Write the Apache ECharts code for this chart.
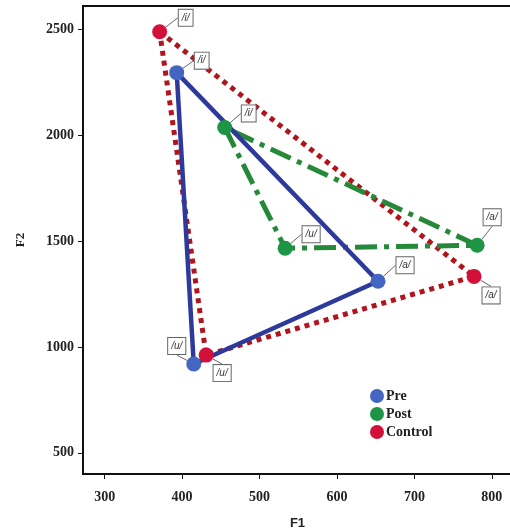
<!DOCTYPE html>
<html>
<head>
<meta charset="utf-8">
<script src="https://cdn.jsdelivr.net/npm/echarts@6/dist/echarts.min.js"></script>
<style>
  html, body { margin: 0; padding: 0; background: #fff; }
  #container { width: 510px; height: 531px; }
</style>
</head>
<body>
<div id="container"></div>
<script>
// vowel labels, same order in every group
const vowels = ['/i/', '/a/', '/u/']

// F1, F2 per group
const preF1 = [393, 653, 415]
const preF2 = [2297, 1311, 920]
const postF1 = [455, 781, 533]
const postF2 = [2038, 1481, 1467]
const controlF1 = [371, 777, 431]
const controlF2 = [2490, 1334, 962]

const xTicks = [300, 400, 500, 600, 700, 800]
const yTicks = [500, 1000, 1500, 2000, 2500]

// label offsets (px) from the point, per group
const labelOffsets = {
  Pre: [[25, -12], [27, -16], [-17, -18]],
  Post: [[24, -14], [15, -28], [26, -14]],
  Control: [[26, -14], [17, 19], [16, 18]]
}

function points(f1, f2) {
  return f1.map((v, i) => [v, f2[i]])
}

// closed triangle i -> a -> u -> i (post goes i -> u -> a -> i, same shape)
function ring(f1, f2) {
  let p = points(f1, f2)
  return p.concat([p[0]])
}

let chartDom = document.getElementById('container')
let myChart = echarts.init(chartDom, null, { renderer: 'canvas' })

const serif = 'Liberation Serif'

function pointSeries(name, f1, f2, color) {
  return {
    name: name,
    type: 'scatter',
    z: 5,
    symbolSize: 15,
    itemStyle: { color: color, opacity: 1 },
    data: points(f1, f2).map((p, i) => ({ value: p, name: vowels[i] })),
    label: {
      show: true,
      position: 'inside',
      formatter: (p) => p.name,
      fontFamily: 'Liberation Sans',
      fontStyle: 'italic',
      fontSize: 10,
      color: '#333',
      backgroundColor: '#fff',
      borderColor: '#666',
      borderWidth: 1,
      padding: [3, 3, 3, 3]
    },
    labelLine: {
      show: true,
      lineStyle: { color: '#666', width: 1 }
    },
    labelLayout: function (params) {
      let o = labelOffsets[name][params.dataIndex]
      return { dx: o[0], dy: o[1] }
    }
  }
}

let option = {
  animation: false,
  backgroundColor: '#fff',
  grid: {
    left: 83,
    top: 6,
    right: -2,
    bottom: 57,
    outerBoundsMode: 'none',
    containLabel: false,
    show: true,
    borderColor: '#111',
    borderWidth: 2
  },
  legend: {
    data: ['Pre', 'Post', 'Control'],
    orient: 'vertical',
    left: 365,
    top: 384,
    icon: 'circle',
    itemWidth: 14,
    itemHeight: 14,
    itemGap: 4,
    textStyle: {
      fontFamily: serif,
      fontWeight: 'bold',
      fontSize: 14,
      color: '#222',
      padding: [0, 0, 0, -3]
    }
  },
  xAxis: {
    type: 'value',
    min: 272,
    max: 826,
    name: 'F1',
    nameLocation: 'middle',
    nameGap: 43,
    nameTextStyle: {
      fontFamily: 'Liberation Sans',
      fontWeight: 'bold',
      fontSize: 13,
      color: '#222'
    },
    splitLine: { show: false },
    axisLine: { show: true, onZero: false, lineStyle: { color: '#111', width: 2 } },
    axisTick: { show: true, length: 5, customValues: xTicks, lineStyle: { color: '#111' } },
    axisLabel: {
      customValues: xTicks,
      margin: 16,
      fontFamily: serif,
      fontWeight: 'bold',
      fontSize: 14,
      color: '#222'
    }
  },
  yAxis: {
    type: 'value',
    min: 400,
    max: 2612,
    name: 'F2',
    nameLocation: 'middle',
    nameGap: 56,
    nameTextStyle: {
      fontFamily: serif,
      fontWeight: 'bold',
      fontSize: 13,
      color: '#222'
    },
    splitLine: { show: false },
    axisLine: { show: true, onZero: false, lineStyle: { color: '#111', width: 2 } },
    axisTick: { show: true, length: 5, customValues: yTicks, lineStyle: { color: '#111' } },
    axisLabel: {
      customValues: yTicks,
      formatter: (v) => String(v),
      margin: 9,
      fontFamily: serif,
      fontWeight: 'bold',
      fontSize: 14,
      color: '#222'
    }
  },
  series: [
    {
      name: 'controlLine',
      type: 'line',
      showSymbol: false,
      z: 2,
      lineStyle: { color: '#b0141c', width: 5, type: [5, 5] },
      data: ring(controlF1, controlF2)
    },
    {
      name: 'postLine',
      type: 'line',
      showSymbol: false,
      z: 3,
      lineStyle: { color: '#26893a', width: 5, type: [22, 7, 5, 7] },
      data: ring([postF1[0], postF1[2], postF1[1]], [postF2[0], postF2[2], postF2[1]])
    },
    {
      name: 'preLine',
      type: 'line',
      showSymbol: false,
      z: 4,
      lineStyle: { color: '#2d3a9c', width: 4.5 },
      data: ring(preF1, preF2)
    },
    pointSeries('Pre', preF1, preF2, '#4565c2'),
    pointSeries('Post', postF1, postF2, '#1e9446'),
    pointSeries('Control', controlF1, controlF2, '#d3103a')
  ]
}

option && myChart.setOption(option)
</script>
</body>
</html>
